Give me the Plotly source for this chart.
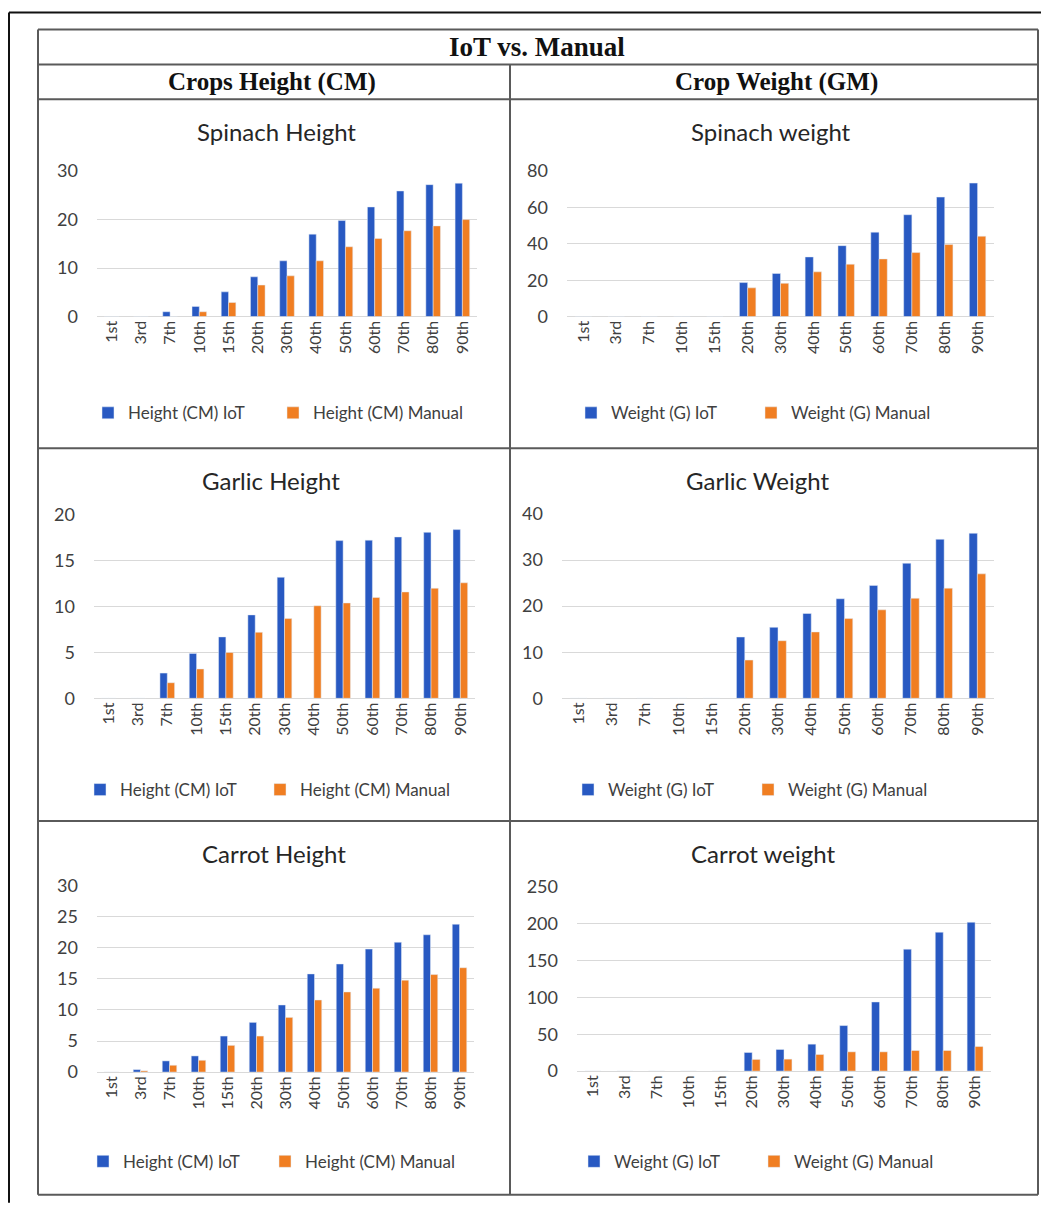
import plotly.graph_objects as go

days = ["1st", "3rd", "7th", "10th", "15th", "20th", "30th", "40th", "50th", "60th", "70th", "80th", "90th"]

spinach_height_iot = [0, 0, 1.0, 2.1, 5.1, 8.2, 11.5, 17.0, 19.8, 22.6, 25.9, 27.2, 27.5]
spinach_height_manual = [0, 0, 0, 1.0, 2.9, 6.5, 8.4, 11.5, 14.4, 16.1, 17.7, 18.7, 20.0]
spinach_weight_iot = [0, 0, 0, 0, 0, 18.7, 23.7, 32.8, 39.0, 46.4, 56.0, 65.7, 73.4]
spinach_weight_manual = [0, 0, 0, 0, 0, 15.8, 18.3, 24.6, 28.8, 31.7, 35.2, 39.6, 44.2]

garlic_height_iot = [0, 0, 2.75, 4.9, 6.7, 9.1, 13.2, 0, 17.2, 17.25, 17.6, 18.1, 18.4]
garlic_height_manual = [0, 0, 1.7, 3.2, 5.0, 7.2, 8.7, 10.1, 10.4, 11.0, 11.6, 12.0, 12.6]
garlic_weight_iot = [0, 0, 0, 0, 0, 13.3, 15.4, 18.4, 21.6, 24.5, 29.3, 34.5, 35.8]
garlic_weight_manual = [0, 0, 0, 0, 0, 8.3, 12.5, 14.4, 17.3, 19.2, 21.7, 23.9, 27.0]

carrot_height_iot = [0, 0.4, 1.8, 2.6, 5.8, 8.0, 10.8, 15.8, 17.4, 19.8, 20.9, 22.1, 23.8]
carrot_height_manual = [0, 0.2, 1.1, 1.9, 4.3, 5.8, 8.8, 11.6, 12.9, 13.5, 14.8, 15.7, 16.8]
carrot_weight_iot = [0, 0, 0, 0, 0, 25.2, 29.3, 36.5, 61.7, 93.7, 165.3, 188.3, 201.8]
carrot_weight_manual = [0, 0, 0, 0, 0, 15.8, 16.2, 22.5, 26.1, 26.1, 27.9, 27.9, 33.3]

panel_titles = ["Spinach Height", "Spinach weight", "Garlic Height", "Garlic Weight", "Carrot Height", "Carrot weight"]
height_names = ["Height (CM) IoT", "Height (CM) Manual"]
weight_names = ["Weight (G) IoT", "Weight (G) Manual"]
y_ranges = [30, 80, 20, 40, 30, 250]
y_dtick = [10, 20, 5, 10, 5, 50]

header_title = "IoT vs. Manual"
col_headers = ["Crops Height (CM)", "Crop Weight (GM)"]

W, H = 1041, 1205
BLUE = "#2859c2"
ORANGE = "#f07e22"
FONT = "Lato, 'Open Sans', sans-serif"
SERIF = "'Liberation Serif', 'DejaVu Serif', serif"

# the photographed page shows y_shot = 0.985 * y_page + 10.4; place things by shot pixel
Y_SCALE, Y_OFF = 0.985, 10.4

def px(x):
    return x / W

def py(y):
    return 1 - ((y - Y_OFF) / Y_SCALE) / H

# panel geometry in pixels: (x0, x1, y_top, y_zero)
panels = [
    (97, 477, 170, 316),
    (567, 994, 170, 316),
    (94, 475, 515, 699),
    (562, 994, 514, 699),
    (97, 474, 887, 1074),
    (577, 991, 888, 1073),
]
title_pos = [(276, 130), (771, 130), (271, 480), (757, 480), (274, 855), (763, 855)]
# legend: (first square centre x, centre y, distance between squares)
legend_pos = [(107, 413, 185), (590, 413, 180), (99, 791, 180), (587, 791, 180), (102, 1164, 182), (593, 1164, 180)]

series = [
    (spinach_height_iot, spinach_height_manual, height_names),
    (spinach_weight_iot, spinach_weight_manual, weight_names),
    (garlic_height_iot, garlic_height_manual, height_names),
    (garlic_weight_iot, garlic_weight_manual, weight_names),
    (carrot_height_iot, carrot_height_manual, height_names),
    (carrot_weight_iot, carrot_weight_manual, weight_names),
]

fig = go.Figure()
layout = {}
annotations = []
for i, (iot, man, names) in enumerate(series):
    n = i + 1
    xa = "x" if n == 1 else f"x{n}"
    ya = "y" if n == 1 else f"y{n}"
    lg_a = "legend" if n == 1 else f"legend{2 * n - 1}"
    lg_b = f"legend{2 * n}"
    fig.add_trace(go.Bar(x=days, y=iot, name=names[0], marker_color=BLUE,
                         xaxis=xa, yaxis=ya, legend=lg_a))
    fig.add_trace(go.Bar(x=days, y=man, name=names[1], marker_color=ORANGE,
                         xaxis=xa, yaxis=ya, legend=lg_b))
    x0, x1, yt, yz = panels[i]
    layout[f"xaxis{n}"] = dict(domain=[px(x0), px(x1)], anchor=ya, tickangle=-90,
                               showgrid=False, showline=False, ticks="",
                               tickfont=dict(family=FONT, size=16, color="#404040"),
                               fixedrange=True)
    layout[f"yaxis{n}"] = dict(domain=[py(yz), py(yt)], anchor=xa, range=[0, y_ranges[i]],
                               dtick=y_dtick[i], showgrid=True, gridcolor="#d9d9d9",
                               gridwidth=1, zeroline=True, zerolinecolor="#d9d9d9",
                               zerolinewidth=1, showline=False, ticks="",
                               ticklabelstandoff=18,
                               tickfont=dict(family=FONT, size=18, color="#404040"),
                               fixedrange=True)
    lx, ly, dist = legend_pos[i]
    for lg, sx in ((lg_a, lx), (lg_b, lx + dist)):
        layout[lg] = dict(orientation="h", x=px(sx - 19), y=py(ly), xanchor="left", yanchor="middle",
                          font=dict(family=FONT, size=17, color="#404040"),
                          itemwidth=30, bgcolor="rgba(0,0,0,0)")
    tx, ty = title_pos[i]
    annotations.append(dict(text=panel_titles[i], x=px(tx), y=py(ty), xref="paper", yref="paper",
                            showarrow=False, xanchor="center", yanchor="middle",
                            font=dict(family=FONT, size=24, color="#262626")))

annotations.append(dict(text="<b>" + header_title + "</b>", x=px(537), y=py(46), xref="paper", yref="paper",
                        showarrow=False, xanchor="center", yanchor="middle",
                        font=dict(family=SERIF, size=27, color="#111111")))
annotations.append(dict(text="<b>" + col_headers[0] + "</b>", x=px(272), y=py(81), xref="paper", yref="paper",
                        showarrow=False, xanchor="center", yanchor="middle",
                        font=dict(family=SERIF, size=25, color="#111111")))
annotations.append(dict(text="<b>" + col_headers[1] + "</b>", x=px(776), y=py(81), xref="paper", yref="paper",
                        showarrow=False, xanchor="center", yanchor="middle",
                        font=dict(family=SERIF, size=25, color="#111111")))

GRID = "#5a5a5a"
shapes = []
def line(x0, y0, x1, y1, color=GRID, width=2):
    shapes.append(dict(type="line", xref="paper", yref="paper", x0=px(x0), y0=py(y0),
                       x1=px(x1), y1=py(y1), line=dict(color=color, width=width)))

# outer frame
line(9, 11, 9, 1205, "#111111", 2)
line(9, 11, 1041, 11, "#111111", 2)
# table
line(38, 28, 1038, 28)
line(38, 1197, 1038, 1197)
line(38, 28, 38, 1197)
line(1038, 28, 1038, 1197)
line(38, 63, 1038, 63)
line(38, 98, 1038, 98)
line(38, 448, 1038, 448)
line(38, 822, 1038, 822)
line(510, 63, 510, 1197)

fig.update_layout(**layout)
fig.update_layout(width=W, height=H, margin=dict(l=0, r=0, t=0, b=0),
                  paper_bgcolor="white", plot_bgcolor="white",
                  barmode="group", bargap=0.5, bargroupgap=0,
                  annotations=annotations, shapes=shapes, showlegend=True)

post = ("document.documentElement.style.margin='0';document.body.style.margin='0';"
        "document.body.style.overflow='hidden';"
        "var d=document.getElementById('{plot_id}');d.style.position='fixed';"
        "d.style.top='0px';d.style.left='0px';")
fig.write_html("out.html", config={"displayModeBar": False}, post_script=post)
